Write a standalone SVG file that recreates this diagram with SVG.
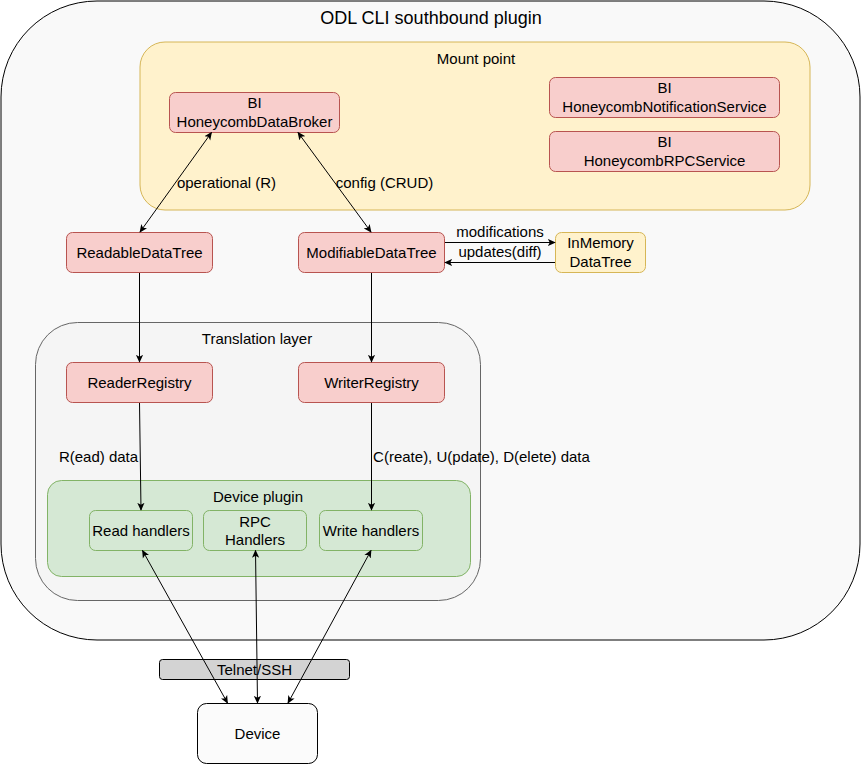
<svg xmlns="http://www.w3.org/2000/svg" width="861" height="764" viewBox="0 0 861 764">
<style>
text{font-family:"Liberation Sans",Arial,sans-serif;font-size:15px;fill:#000;text-anchor:middle}
.red{fill:#f8cecc;stroke:#b85450;stroke-width:1}
.yel{fill:#fff2cc;stroke:#d6b656;stroke-width:1}
.grn{fill:#d5e8d4;stroke:#82b366;stroke-width:1}
.edge{fill:none;stroke:#000;stroke-width:1}
</style>
<defs>
<marker id="ah" viewBox="0 0 10 10" refX="9" refY="5" markerWidth="8" markerHeight="8" markerUnits="userSpaceOnUse" orient="auto-start-reverse">
<path d="M0,0.5 L10,5 L0,9.5 L2.5,5 z" fill="#000"/>
</marker>
</defs>
<rect width="861" height="764" fill="#fff"/>
<g id="outer">
<rect x="1" y="1" width="859" height="639" rx="96" ry="96" fill="#f9f9f9" stroke="#000"/>
<text x="431" y="24" style="font-size:18px">ODL CLI southbound plugin</text>
</g>
<g id="mount-point">
<rect x="140" y="42" width="670" height="168" rx="25" ry="25" class="yel"/>
<text x="476" y="64">Mount point</text>
</g>
<g id="translation-layer">
<rect x="35.5" y="322.5" width="445" height="278" rx="42" ry="42" fill="#f5f5f5" stroke="#666666"/>
<text x="257" y="344">Translation layer</text>
</g>
<g id="device-plugin">
<rect x="47.5" y="480.5" width="423" height="96" rx="14" ry="14" class="grn"/>
<text x="258" y="502">Device plugin</text>
</g>
<g id="data-broker">
<rect x="169.5" y="92.5" width="170" height="40" rx="6" class="red"/>
<text x="254.5" y="108">BI</text>
<text x="254.5" y="127">HoneycombDataBroker</text>
</g>
<g id="notification-service">
<rect x="549.5" y="77.5" width="230" height="40" rx="6" class="red"/>
<text x="664.5" y="93">BI</text>
<text x="664.5" y="112">HoneycombNotificationService</text>
</g>
<g id="rpc-service">
<rect x="549.5" y="131.5" width="230" height="40" rx="6" class="red"/>
<text x="664.5" y="147">BI</text>
<text x="664.5" y="166">HoneycombRPCService</text>
</g>
<g id="readable-data-tree">
<rect x="66.5" y="232.5" width="146" height="40" rx="6" class="red"/>
<text x="139.5" y="258">ReadableDataTree</text>
</g>
<g id="modifiable-data-tree">
<rect x="298.5" y="232.5" width="146" height="40" rx="6" class="red"/>
<text x="371.5" y="258">ModifiableDataTree</text>
</g>
<g id="inmemory-data-tree">
<rect x="555.5" y="232.5" width="90" height="40" rx="6" class="yel"/>
<text x="600.5" y="248">InMemory</text>
<text x="600.5" y="267">DataTree</text>
</g>
<g id="reader-registry">
<rect x="66.5" y="362.5" width="146" height="40" rx="6" class="red"/>
<text x="139.5" y="388">ReaderRegistry</text>
</g>
<g id="writer-registry">
<rect x="298.5" y="362.5" width="146" height="40" rx="6" class="red"/>
<text x="371.5" y="388">WriterRegistry</text>
</g>
<g id="read-handlers">
<rect x="89.5" y="510.5" width="103" height="40" rx="6" class="grn"/>
<text x="141" y="536">Read handlers</text>
</g>
<g id="rpc-handlers">
<rect x="203.5" y="510.5" width="103" height="40" rx="6" class="grn"/>
<text x="255" y="527">RPC</text>
<text x="255" y="545">Handlers</text>
</g>
<g id="write-handlers">
<rect x="319.5" y="510.5" width="103" height="40" rx="6" class="grn"/>
<text x="371" y="536">Write handlers</text>
</g>
<g id="telnet-ssh">
<rect x="159.5" y="659.5" width="190" height="20" rx="3" fill="#d3d3d3" stroke="#000"/>
<text x="254.5" y="675">Telnet/SSH</text>
</g>
<g id="device">
<rect x="197.5" y="703.5" width="120" height="60" rx="9" fill="#fbfbfb" stroke="#000"/>
<text x="257.5" y="739">Device</text>
</g>
<g id="connectors">
<line class="edge" x1="211.5" y1="132.5" x2="140" y2="232" marker-start="url(#ah)" marker-end="url(#ah)"/>
<line class="edge" x1="298" y1="132.5" x2="371" y2="232" marker-start="url(#ah)" marker-end="url(#ah)"/>
<line class="edge" x1="445" y1="242.5" x2="555" y2="242.5" marker-end="url(#ah)"/>
<line class="edge" x1="555" y1="262.5" x2="445" y2="262.5" marker-end="url(#ah)"/>
<line class="edge" x1="139.5" y1="273" x2="139.5" y2="362" marker-end="url(#ah)"/>
<line class="edge" x1="371.5" y1="273" x2="371.5" y2="362" marker-end="url(#ah)"/>
<line class="edge" x1="139.5" y1="403" x2="141" y2="510" marker-end="url(#ah)"/>
<line class="edge" x1="371.5" y1="403" x2="371.5" y2="510" marker-end="url(#ah)"/>
<line class="edge" x1="142.5" y1="550.5" x2="227.5" y2="703" marker-start="url(#ah)" marker-end="url(#ah)"/>
<line class="edge" x1="255.5" y1="550.5" x2="257.5" y2="703" marker-start="url(#ah)" marker-end="url(#ah)"/>
<line class="edge" x1="371" y1="550.5" x2="288" y2="703" marker-start="url(#ah)" marker-end="url(#ah)"/>
<text x="226.5" y="188">operational (R)</text>
<text x="384.5" y="188">config (CRUD)</text>
<text x="500" y="237">modifications</text>
<text x="500" y="257">updates(diff)</text>
<text x="98.5" y="462">R(ead) data</text>
<text x="481.5" y="462">C(reate), U(pdate), D(elete) data</text>
</g>
</svg>
